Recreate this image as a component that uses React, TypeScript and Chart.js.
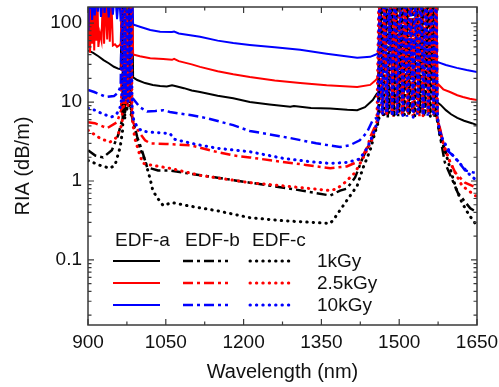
import React, { useEffect, useRef } from "react";
import { Chart, registerables } from "chart.js";

Chart.register(...registerables);

// ---- axes ----
const xMin = 900;
const xMax = 1650;
const xTickValues = [900, 1050, 1200, 1350, 1500, 1650];
const xMinorStep = 75;
const yMin = 0.015;
const yMax = 160;
const yTickValues = [0.1, 1, 10, 100];
const xTitle = "Wavelength (nm)";
const yTitle = "RIA (dB/m)";

// ---- legend ----
const fiberLabels = ["EDF-a", "EDF-b", "EDF-c"];
const doseLabels = ["1kGy", "2.5kGy", "10kGy"];
const doseColors = ["#000000", "#ff0000", "#0000ff"];

// ---- data: [wavelength nm, RIA dB/m] ----
// EDF-a (solid)
const a1kGy = [
  [900, 45], [910, 42], [920, 38], [930, 34], [940, 31], [950, 28], [958, 26.5], [963, 26],
  [966, 300], [985, 300], [987, 20.5], [995, 19], [1010, 17.4], [1025, 16.5], [1039, 16],
  [1052, 15.8], [1062, 16.3], [1068, 16], [1085, 15], [1100, 14], [1116, 13.4], [1150, 12],
  [1180, 11.2], [1212, 10], [1250, 9.3], [1290, 8.7], [1297, 8.9], [1330, 8.4], [1367, 8.3],
  [1400, 8.0], [1419, 7.9], [1434, 8.6], [1449, 10.6], [1456, 12.5], [1460, 13.5],
  [1463, 300], [1571, 300], [1573, 10], [1580, 9.2], [1590, 7.9], [1600, 7], [1612, 6.3],
  [1625, 5.8], [1640, 5.4], [1650, 5.1],
];
const a2p5kGy = [
  [900, 220], [901, 48], [902, 250], [904, 42], [906, 230], [908, 55], [910, 250], [912, 45],
  [914, 200], [916, 60], [918, 240], [920, 50], [923, 75], [926, 60], [929, 250], [931, 55],
  [934, 210], [937, 62], [940, 250], [942, 58], [945, 200], [948, 52], [952, 54], [956, 50],
  [960, 52], [963, 55], [966, 300], [985, 300], [987, 40], [1000, 38], [1020, 36], [1045, 35],
  [1062, 34.3], [1066, 35.3], [1075, 33], [1100, 30], [1116, 27.9], [1150, 24.5], [1180, 22.5],
  [1212, 20.8], [1260, 18.8], [1309, 17.4], [1360, 16.3], [1419, 15.5], [1444, 16.5],
  [1455, 19], [1460, 21], [1463, 300], [1571, 300], [1573, 17.4], [1585, 14.5], [1598, 13.4],
  [1612, 12.2], [1623, 11.6], [1636, 11], [1650, 10.6],
];
const a10kGy = [
  [900, 230], [901, 80], [902, 250], [904, 150], [906, 240], [908, 110], [911, 250], [913, 125],
  [916, 230], [919, 140], [922, 250], [925, 120], [929, 240], [932, 135], [936, 250], [940, 118],
  [944, 240], [948, 128], [952, 250], [956, 112], [960, 240], [963, 105], [966, 300], [985, 300],
  [987, 96], [1000, 90], [1020, 82], [1039, 78], [1062, 77], [1066, 78], [1075, 74], [1116, 67],
  [1150, 60], [1180, 56], [1212, 53], [1260, 49.5], [1309, 45.9], [1360, 41], [1419, 36.3],
  [1444, 37.4], [1455, 40], [1460, 42], [1463, 300], [1571, 300], [1573, 32.3], [1590, 29.5],
  [1611, 27.1], [1630, 25.5], [1650, 24.1],
];
// EDF-b (dash-dot)
const b1kGy = [
  [900, 2.45], [914, 2.1], [929, 1.99], [946, 2.45], [958, 3.8], [967, 6.4], [969, 300],
  [971, 7.2], [973, 300], [975, 9.2], [977, 300], [979, 9.7], [981, 300], [983, 8], [985, 6.4],
  [995, 3.6], [1004, 2.45], [1014, 1.49], [1035, 1.36], [1058, 1.36], [1083, 1.28], [1150, 1.1],
  [1212, 0.953], [1290, 0.8], [1367, 0.655], [1386, 0.757], [1399, 0.8], [1415, 1.11],
  [1430, 1.99], [1449, 3.59], [1459, 5.56], [1463, 300], [1468, 7.0], [1473, 300], [1478, 6.4],
  [1483, 300], [1488, 7.2], [1493, 300], [1498, 6.6], [1503, 300], [1508, 7.4], [1513, 300],
  [1518, 6.9], [1523, 300], [1528, 6.5], [1533, 300], [1538, 7.3], [1543, 300], [1548, 6.7],
  [1553, 300], [1558, 7.0], [1563, 300], [1568, 6.5], [1571, 300], [1573, 5.9], [1588, 1.72],
  [1613, 0.71], [1637, 0.45], [1650, 0.4],
];
const b2p5kGy = [
  [900, 5.56], [913, 5.4], [937, 4.67], [956, 5.56], [964, 7.9], [966, 300], [968, 9.5],
  [970, 300], [972, 10], [974, 300], [976, 9.2], [978, 300], [980, 10.5], [982, 300],
  [984, 8.5], [987, 5.5], [1000, 4.03], [1010, 3.28], [1020, 3.0], [1050, 2.95], [1097, 2.84],
  [1140, 2.4], [1180, 2.11], [1212, 1.99], [1260, 1.8], [1320, 1.6], [1367, 1.45], [1399, 1.53],
  [1415, 1.7], [1428, 1.99], [1438, 2.68], [1444, 3.59], [1450, 4.4], [1459, 5.9], [1464, 300],
  [1469, 6.6], [1474, 300], [1479, 7.3], [1484, 300], [1489, 6.5], [1494, 300], [1499, 7.0],
  [1504, 300], [1509, 7.6], [1514, 300], [1519, 6.8], [1524, 300], [1529, 7.1], [1534, 300],
  [1539, 6.6], [1544, 300], [1549, 7.4], [1554, 300], [1559, 6.9], [1564, 300], [1569, 7.2],
  [1572, 300], [1574, 6.4], [1588, 2.45], [1608, 1.28], [1627, 0.95], [1650, 0.82],
];
const b10kGy = [
  [900, 14.2], [912, 13.4], [925, 12.4], [935, 11.6], [950, 11.9], [958, 13.2], [963, 16],
  [966, 300], [968, 11], [970, 300], [972, 12], [974, 300], [976, 10.5], [978, 300],
  [980, 11.5], [982, 300], [984, 10.8], [987, 11], [1000, 8.6], [1014, 7.6], [1030, 7.7],
  [1045, 7.9], [1058, 7.5], [1080, 7.1], [1100, 6.8], [1129, 6.25], [1180, 5.1], [1212, 4.3],
  [1250, 3.9], [1290, 3.5], [1340, 3.0], [1386, 2.7], [1405, 2.84], [1424, 3.28], [1438, 4.15],
  [1449, 5.9], [1460, 6.5], [1463, 300], [1466, 7.2], [1470, 300], [1475, 6.6], [1480, 300],
  [1485, 7.4], [1490, 300], [1495, 6.8], [1500, 300], [1505, 7.0], [1510, 300], [1515, 6.5],
  [1520, 300], [1525, 7.6], [1530, 300], [1535, 6.9], [1540, 300], [1545, 7.1], [1550, 300],
  [1555, 6.7], [1560, 300], [1565, 7.3], [1570, 300], [1573, 6.8], [1580, 4.0], [1592, 2.45],
  [1608, 1.99], [1627, 1.36], [1650, 1.25],
];
// EDF-c (dotted)
const c1kGy = [
  [900, 1.82], [923, 1.58], [942, 1.45], [952, 1.58], [962, 2.68], [967, 4.5], [969, 300],
  [971, 6], [973, 300], [975, 7.5], [977, 300], [979, 8.2], [981, 300], [983, 7], [985, 6.4],
  [996, 3.0], [1010, 1.82], [1020, 1.05], [1025, 0.757], [1033, 0.62], [1045, 0.488],
  [1062, 0.533], [1091, 0.488], [1149, 0.42], [1212, 0.343], [1276, 0.314], [1367, 0.29],
  [1376, 0.343], [1395, 0.52], [1419, 0.87], [1430, 1.45], [1444, 2.45], [1453, 4.03],
  [1461, 5.9], [1465, 300], [1470, 6.9], [1475, 300], [1480, 7.2], [1485, 300], [1490, 6.5],
  [1495, 300], [1500, 7.6], [1505, 300], [1510, 6.8], [1515, 300], [1520, 7.0], [1525, 300],
  [1530, 6.6], [1535, 300], [1540, 7.3], [1545, 300], [1550, 6.9], [1555, 300], [1560, 6.5],
  [1565, 300], [1570, 6.8], [1573, 6.4], [1579, 3.6], [1588, 2.45], [1602, 1.18], [1611, 0.757],
  [1621, 0.533], [1633, 0.387], [1640, 0.333], [1650, 0.271],
];
const c2p5kGy = [
  [900, 4.4], [923, 3.48], [942, 3.1], [956, 3.59], [966, 5.4], [967, 300], [969, 8.5],
  [971, 300], [973, 9.5], [975, 300], [977, 8.8], [979, 300], [981, 9.8], [983, 300],
  [985, 6.5], [990, 3.5], [1000, 2.11], [1006, 1.67], [1020, 1.6], [1058, 1.45], [1116, 1.18],
  [1212, 0.953], [1290, 0.85], [1367, 0.757], [1380, 0.8], [1395, 0.953], [1415, 1.28],
  [1430, 1.94], [1447, 3.28], [1457, 5.56], [1461, 300], [1467, 6.8], [1471, 300], [1476, 7.1],
  [1481, 300], [1486, 6.9], [1491, 300], [1496, 7.5], [1501, 300], [1506, 6.6], [1511, 300],
  [1516, 7.3], [1521, 300], [1526, 6.7], [1531, 300], [1536, 7.0], [1541, 300], [1546, 6.5],
  [1551, 300], [1556, 7.2], [1561, 300], [1566, 6.8], [1571, 300], [1573, 6.25], [1583, 3.28],
  [1598, 1.72], [1621, 0.873], [1646, 0.655], [1650, 0.64],
];
const c10kGy = [
  [900, 8.4], [913, 7.9], [930, 7.0], [946, 6.5], [955, 7.0], [962, 8.6], [965, 11], [967, 300],
  [969, 10], [971, 300], [973, 11], [975, 300], [977, 10.2], [979, 300], [981, 11.5], [983, 300],
  [985, 9], [988, 6.0], [995, 4.8], [1004, 4.3], [1020, 4.15], [1058, 4.0], [1066, 3.4],
  [1072, 3.3], [1110, 2.9], [1149, 2.6], [1212, 2.35], [1276, 1.94], [1330, 1.75], [1367, 1.67],
  [1399, 1.72], [1424, 1.9], [1438, 2.6], [1449, 3.8], [1459, 5.9], [1462, 300], [1468, 6.9],
  [1472, 300], [1477, 7.5], [1482, 300], [1487, 6.6], [1492, 300], [1497, 7.3], [1502, 300],
  [1507, 6.7], [1512, 300], [1517, 7.2], [1522, 300], [1527, 6.4], [1532, 300], [1537, 7.4],
  [1542, 300], [1547, 6.8], [1552, 300], [1557, 7.1], [1562, 300], [1567, 6.6], [1571, 300],
  [1574, 6.2], [1579, 3.8], [1598, 2.31], [1617, 1.67], [1637, 1.18], [1650, 1.01],
];

const FONT = "'Liberation Sans', Arial, Helvetica, sans-serif";
const styles = [
  { dash: [] as number[], width: 2, cap: "butt" },
  { dash: [10, 4, 3, 4], width: 2.5, cap: "butt" },
  { dash: [0.4, 6], width: 3, cap: "round" },
];

const seriesGrid = [
  [a1kGy, a2p5kGy, a10kGy],
  [b1kGy, b2p5kGy, b10kGy],
  [c1kGy, c2p5kGy, c10kGy],
];

const overlayPlugin = {
  id: "overlay",
  afterDatasetsDraw(chart: any) {
    const { ctx, chartArea, scales } = chart;
    const { left, right, top, bottom } = chartArea;
    const xs = scales.x;
    const ys = scales.y;
    ctx.save();
    ctx.strokeStyle = "#3a3a3a";
    ctx.lineWidth = 1.5;
    ctx.strokeRect(left, top, right - left, bottom - top);
    ctx.lineWidth = 1.2;
    ctx.beginPath();
    for (let v = xMin; v <= xMax; v += xMinorStep) {
      const px = xs.getPixelForValue(v);
      const len = xTickValues.includes(v) ? 6 : 3.5;
      ctx.moveTo(px, bottom);
      ctx.lineTo(px, bottom - len);
      ctx.moveTo(px, top);
      ctx.lineTo(px, top + len);
    }
    for (let d = -2; d <= 2; d++) {
      for (let m = 1; m <= 9; m++) {
        const v = m * Math.pow(10, d);
        if (v < yMin || v > yMax) continue;
        const py = ys.getPixelForValue(v);
        const len = m === 1 ? 6 : 3.5;
        ctx.moveTo(left, py);
        ctx.lineTo(left + len, py);
        ctx.moveTo(right, py);
        ctx.lineTo(right - len, py);
      }
    }
    ctx.stroke();

    // legend
    ctx.fillStyle = "#111";
    ctx.font = `19px ${FONT}`;
    ctx.textBaseline = "alphabetic";
    ctx.textAlign = "left";
    const headerX = [115, 185, 252];
    const lineX = [[113, 160], [183, 228], [250, 293]];
    const rowY = [261, 283, 305];
    fiberLabels.forEach((lab, i) => ctx.fillText(lab, headerX[i], 246));
    ctx.textBaseline = "middle";
    doseLabels.forEach((lab, j) => ctx.fillText(lab, 317, rowY[j] + 1));
    for (let i = 0; i < 3; i++) {
      for (let j = 0; j < 3; j++) {
        ctx.beginPath();
        ctx.strokeStyle = doseColors[j];
        ctx.lineWidth = styles[i].width;
        ctx.lineCap = styles[i].cap;
        ctx.setLineDash(styles[i].dash);
        ctx.moveTo(lineX[i][0], rowY[j]);
        ctx.lineTo(lineX[i][1], rowY[j]);
        ctx.stroke();
      }
    }
    ctx.setLineDash([]);
    ctx.restore();
  },
};

export default function App() {
  const ref = useRef<HTMLCanvasElement | null>(null);
  useEffect(() => {
    if (!ref.current) return;
    const datasets: any[] = [];
    for (let i = 2; i >= 0; i--) {
      for (let j = 2; j >= 0; j--) {
        datasets.push({
          label: `${fiberLabels[i]} ${doseLabels[j]}`,
          data: seriesGrid[i][j].map(([x, y]) => ({ x, y })),
          borderColor: doseColors[j],
          backgroundColor: doseColors[j],
          borderWidth: styles[i].width,
          borderDash: styles[i].dash,
          borderCapStyle: styles[i].cap,
          pointRadius: 0,
          tension: 0,
          fill: false,
          clip: 0,
        });
      }
    }
    const chart = new Chart(ref.current, {
      type: "line",
      data: { datasets },
      options: {
        animation: false,
        responsive: true,
        maintainAspectRatio: false,
        layout: { padding: { top: 7, right: 22, left: 0, bottom: 0 } },
        plugins: { legend: { display: false }, tooltip: { enabled: false } },
        scales: {
          x: {
            type: "linear",
            min: xMin,
            max: xMax,
            grid: { display: false, drawTicks: false },
            border: { display: false },
            afterBuildTicks: (s: any) => {
              s.ticks = xTickValues.map((v) => ({ value: v }));
            },
            afterFit: (s: any) => {
              s.height = 62;
              s.paddingLeft = 0;
              s.paddingRight = 0;
            },
            ticks: {
              autoSkip: false,
              maxRotation: 0,
              padding: 6,
              color: "#111",
              font: { family: FONT, size: 19 },
              callback: (v: any) => String(v),
            },
            title: {
              display: true,
              text: xTitle,
              color: "#111",
              font: { family: FONT, size: 20 },
              padding: { top: 0, bottom: 3 },
            },
          },
          y: {
            type: "logarithmic",
            min: yMin,
            max: yMax,
            grid: { display: false, drawTicks: false },
            border: { display: false },
            afterBuildTicks: (s: any) => {
              s.ticks = yTickValues.map((v) => ({ value: v }));
            },
            afterFit: (s: any) => {
              s.width = 88;
              s.paddingTop = 0;
              s.paddingBottom = 0;
            },
            ticks: {
              autoSkip: false,
              padding: 6,
              color: "#111",
              font: { family: FONT, size: 19 },
              callback: (v: any) => String(v),
            },
            title: {
              display: true,
              text: yTitle,
              color: "#111",
              font: { family: FONT, size: 20 },
              padding: { top: 11, bottom: 0 },
            },
          },
        },
      },
      plugins: [overlayPlugin],
    });
    return () => chart.destroy();
  }, []);
  return (
    <div style={{ position: "fixed", left: 0, top: 0, width: 499, height: 387, background: "#fff" }}>
      <canvas ref={ref} />
    </div>
  );
}
